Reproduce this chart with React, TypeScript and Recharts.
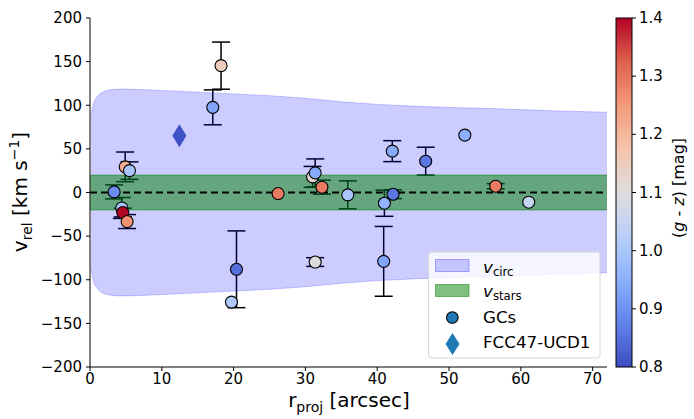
import React from 'react'
import { ComposedChart, Area, Scatter, ErrorBar, XAxis, YAxis, ReferenceLine } from 'recharts'

// globular clusters: projected radius [arcsec], v_rel [km/s], error, (g - z) colour
const gcR = [3.36, 4.9, 5.5, 4.43, 4.57, 5.17, 17.1, 18.25, 19.7, 20.4, 26.2, 31.0, 31.36, 32.3, 31.36, 35.9, 40.9, 41.0, 42.2, 42.1, 46.75, 52.2, 56.5, 61.1]
const gcV = [0.7, 29.4, 25.1, -17.7, -23, -33.3, 97.6, 145.4, -125.6, -88, -1.2, 17.9, 22.5, 6.1, -79.7, -2.7, -78.9, -12.3, -2, 47.4, 35.9, 65.8, 7.2, -11.1]
const gcErr = [8, 17, 10, 12, 5, 8, 20, 27, 0, 44, 0, 12, 16, 8, 5, 16, 40, 15, 5, 12, 16, 0, 3, 0]
const gcGz = [0.89, 1.22, 1.0, 1.0, 1.4, 1.26, 0.93, 1.15, 1.01, 0.85, 1.29, 1.12, 0.94, 1.29, 1.1, 1.0, 0.93, 0.96, 0.86, 0.94, 0.86, 0.95, 1.29, 1.05]

// FCC47-UCD1
const ucdR = [12.45]
const ucdV = [65]

// circular velocity envelope and stellar rotation band
const circR = [0.15, 0.3, 0.6, 1, 1.5, 2, 3, 4, 5, 7, 10, 15, 20, 25, 30, 35, 40, 45, 50, 55, 60, 65, 72]
const circV = [85, 95, 105, 110, 114, 116, 118, 118.5, 118.5, 118, 117, 115, 113, 111, 108, 104, 101, 99, 97.5, 96.5, 95, 93.5, 92]
const starsV = 20

const xTicks = [0, 10, 20, 30, 40, 50, 60, 70]
const yTicks = [-200, -150, -100, -50, 0, 50, 100, 150, 200]
const cbarTicks = [0.8, 0.9, 1.0, 1.1, 1.2, 1.3, 1.4]

const W = 694
const H = 419
const FONT = '"DejaVu Sans", sans-serif'

// matplotlib coolwarm, sampled at 9 points
const coolwarm = [
  [59, 76, 192], [98, 130, 234], [141, 176, 254], [184, 208, 249], [221, 221, 221],
  [245, 196, 173], [244, 154, 123], [222, 96, 77], [180, 4, 38],
]
const cMin = 0.8
const cMax = 1.4

function cmap(v: number) {
  const t = Math.min(1, Math.max(0, (v - cMin) / (cMax - cMin))) * 8
  const i = Math.min(7, Math.floor(t))
  const f = t - i
  const a = coolwarm[i]
  const b = coolwarm[i + 1]
  const c = a.map((x, k) => Math.round(x + (b[k] - x) * f))
  return `rgb(${c[0]},${c[1]},${c[2]})`
}

const bandData = [
  { r: 0, circ: null as null | number[], stars: [-starsV, starsV] },
  ...circR.map((r, i) => ({ r, circ: [-circV[i], circV[i]], stars: [-starsV, starsV] })),
]
const gcData = gcR.map((r, i) => ({ r, v: gcV[i], err: gcErr[i], gz: gcGz[i] }))
const ucdData = ucdR.map((r, i) => ({ r, v: ucdV[i] }))

const fmt = (v: number) => (v < 0 ? `\u2212${-v}` : `${v}`)

function GcDot(props: any) {
  const { cx, cy, payload } = props
  if (cx == null || cy == null) return <g />
  return <circle cx={cx} cy={cy} r={6} fill={cmap(payload.gz)} stroke="#000" strokeWidth={1.1} />
}

function Diamond(props: any) {
  const { cx, cy } = props
  if (cx == null || cy == null) return <g />
  return <path d={`M${cx},${cy - 11.5} L${cx + 7},${cy} L${cx},${cy + 11.5} L${cx - 7},${cy} Z`} fill="#3e51c6" />
}

// plot frame (must match chart margins below)
const plotTop = 18
const plotBottom = 367
const cbX = 616
const cbW = 16
const cbY = (v: number) => plotBottom - ((v - cMin) / (cMax - cMin)) * (plotBottom - plotTop)

function Overlay() {
  return (
    <svg width={W} height={H} style={{ position: 'absolute', left: 0, top: 0, pointerEvents: 'none' }} fontFamily={FONT}>
      <defs>
        <linearGradient id="cw" x1="0" y1="1" x2="0" y2="0">
          {coolwarm.map((c, i) => (
            <stop key={i} offset={`${(i / 8) * 100}%`} stopColor={`rgb(${c[0]},${c[1]},${c[2]})`} />
          ))}
        </linearGradient>
      </defs>

      {/* axis titles */}
      <text x={349} y={407} fontSize={20} textAnchor="middle" fill="#000">
        r<tspan fontSize={14} dy={5}>proj</tspan>
        <tspan dy={-5}> [arcsec]</tspan>
      </text>
      <text x={27} y={192} fontSize={20} textAnchor="middle" fill="#000" transform="rotate(-90 27 192)">
        v<tspan fontSize={14} dy={5}>rel</tspan>
        <tspan dy={-5}> [km s</tspan>
        <tspan fontSize={14} dy={-8}>{'\u2212'}1</tspan>
        <tspan dy={8}>]</tspan>
      </text>

      {/* colorbar */}
      <rect x={cbX} y={plotTop} width={cbW} height={plotBottom - plotTop} fill="url(#cw)" stroke="#000" strokeWidth={1} />
      {cbarTicks.map((t) => (
        <g key={t}>
          <line x1={cbX + cbW} x2={cbX + cbW + 4} y1={cbY(t)} y2={cbY(t)} stroke="#000" strokeWidth={1} />
          <text x={cbX + cbW + 7} y={cbY(t) + 5} fontSize={15} fill="#000">{t.toFixed(1)}</text>
        </g>
      ))}
      <text x={684} y={188} fontSize={16} textAnchor="middle" fill="#000" transform="rotate(-90 684 188)">
        (<tspan fontStyle="italic">g</tspan> - <tspan fontStyle="italic">z</tspan>) [mag]
      </text>

      {/* legend */}
      <rect x={428.5} y={252} width={171.5} height={106} rx={3} fill="#fff" fillOpacity={0.8} stroke="#d6d6d6" />
      <rect x={435.5} y={259.5} width={33.5} height={12} fill="#0000ff" fillOpacity={0.2} stroke="#0000ff" strokeOpacity={0.3} />
      <rect x={435.5} y={284.5} width={33.5} height={12} fill="#008000" fillOpacity={0.5} stroke="#008000" strokeOpacity={0.5} />
      <circle cx={452.3} cy={317.5} r={5.8} fill="#1f77b4" stroke="#000" strokeWidth={1.1} />
      <path d="M452.5,333 L459.5,344 L452.5,355 L445.5,344 Z" fill="#1f77b4" />
      <text x={483} y={273} fontSize={16.7} fill="#000">
        <tspan fontStyle="italic">v</tspan>
        <tspan fontSize={11.7} dy={3}>circ</tspan>
      </text>
      <text x={483} y={296.5} fontSize={16.7} fill="#000">
        <tspan fontStyle="italic">v</tspan>
        <tspan fontSize={11.7} dy={3}>stars</tspan>
      </text>
      <text x={483} y={322.5} fontSize={16.7} fill="#000">GCs</text>
      <text x={483} y={347.5} fontSize={16.7} fill="#000">FCC47-UCD1</text>
    </svg>
  )
}

export default function App() {
  return (
    <div style={{ position: 'absolute', left: 0, top: 0, width: W, height: H, background: '#fff', fontFamily: FONT }}>
      <ComposedChart width={W} height={H} data={bandData} margin={{ top: plotTop, right: 87, bottom: 0, left: 0 }}>
        <XAxis
          dataKey="r"
          type="number"
          domain={[0, 72]}
          ticks={xTicks}
          height={52}
          tickSize={4}
          tickMargin={2}
          allowDataOverflow
          axisLine={{ stroke: '#000', strokeWidth: 1 }}
          tickLine={{ stroke: '#000', strokeWidth: 1 }}
          tick={{ fill: '#000', fontSize: 15 }}
        />
        <XAxis xAxisId="top" orientation="top" type="number" domain={[0, 72]} height={0} tick={false} tickLine={false} axisLine={{ stroke: '#000', strokeWidth: 1 }} />
        <YAxis
          type="number"
          domain={[-200, 200]}
          ticks={yTicks}
          width={90}
          tickSize={4}
          tickMargin={4}
          allowDataOverflow
          tickFormatter={fmt}
          axisLine={{ stroke: '#000', strokeWidth: 1 }}
          tickLine={{ stroke: '#000', strokeWidth: 1 }}
          tick={{ fill: '#000', fontSize: 15 }}
        />
        <YAxis yAxisId="right" orientation="right" type="number" domain={[-200, 200]} width={0} tick={false} tickLine={false} axisLine={{ stroke: '#000', strokeWidth: 1 }} />

        <Scatter data={gcData} dataKey="v" shape={() => <g />} isAnimationActive={false} zIndex={40}>
          <ErrorBar dataKey="err" direction="y" width={9} stroke="#000" strokeWidth={1.5} isAnimationActive={false} zIndex={40} />
        </Scatter>
        <Area
          dataKey="circ"
          type="linear"
          fill="#0000ff"
          fillOpacity={0.2}
          stroke="#0000ff"
          strokeOpacity={0.2}
          strokeWidth={1}
          isAnimationActive={false}
          dot={false}
          activeDot={false}
          zIndex={100}
        />
        <Area
          dataKey="stars"
          type="linear"
          fill="#008000"
          fillOpacity={0.5}
          stroke="#008000"
          strokeOpacity={0.5}
          strokeWidth={1}
          isAnimationActive={false}
          dot={false}
          activeDot={false}
          zIndex={110}
        />
        <ReferenceLine y={0} stroke="#000" strokeWidth={2} strokeDasharray="7 4" zIndex={300} />
        <Scatter data={gcData} dataKey="v" shape={GcDot} isAnimationActive={false} zIndex={600} />
        <Scatter data={ucdData} dataKey="v" shape={Diamond} isAnimationActive={false} zIndex={600} />
      </ComposedChart>
      <Overlay />
    </div>
  )
}
